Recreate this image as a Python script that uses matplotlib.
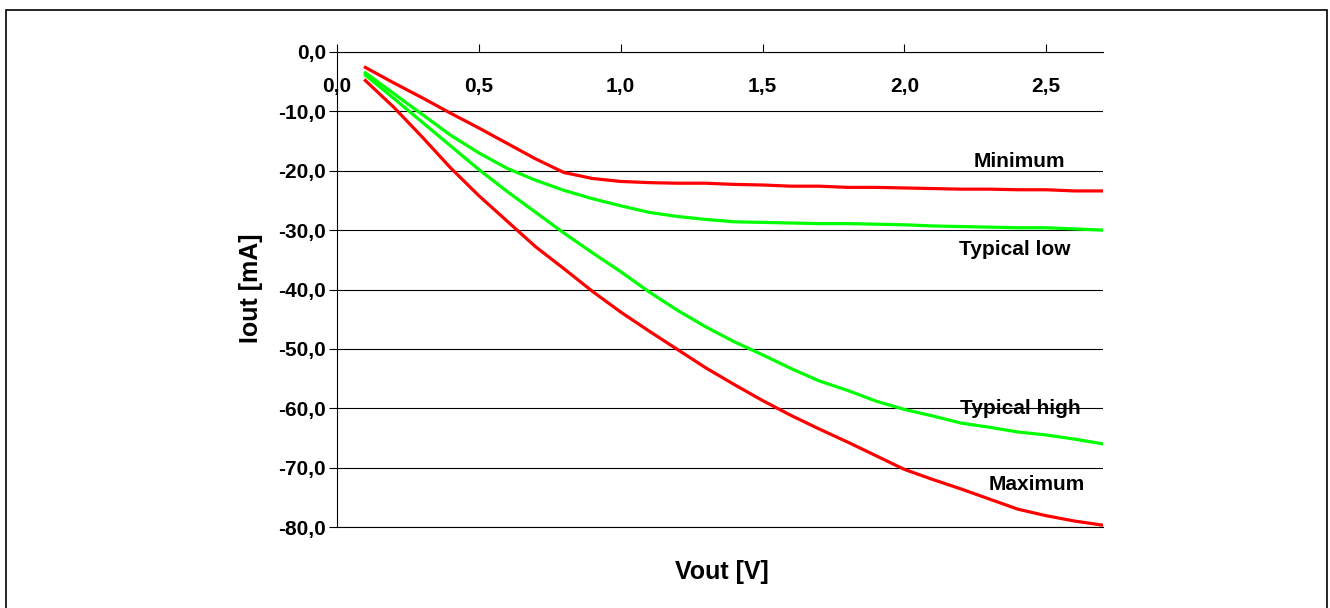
import matplotlib
matplotlib.use("Agg")
import matplotlib.pyplot as plt
from matplotlib.patches import Rectangle

# Vout steps (V)
vout = [0.1, 0.2, 0.3, 0.4, 0.5, 0.6, 0.7, 0.8, 0.9, 1.0, 1.1, 1.2, 1.3, 1.4,
        1.5, 1.6, 1.7, 1.8, 1.9, 2.0, 2.1, 2.2, 2.3, 2.4, 2.5, 2.6, 2.7]

# Iout curves
i_min = [-2.6, -5.2, -7.7, -10.3, -12.8, -15.4, -18.0, -20.3, -21.3, -21.8, -22.0,
         -22.1, -22.1, -22.3, -22.4, -22.6, -22.6, -22.8, -22.8, -22.9, -23.0,
         -23.1, -23.1, -23.2, -23.2, -23.4, -23.4]
i_typ_low = [-3.5, -7.0, -10.5, -14.0, -17.0, -19.6, -21.6, -23.3, -24.7, -25.9,
             -27.0, -27.7, -28.2, -28.6, -28.7, -28.8, -28.9, -28.9, -29.0, -29.1,
             -29.3, -29.4, -29.5, -29.6, -29.6, -29.8, -30.0]
i_typ_high = [-3.9, -7.8, -11.8, -15.8, -19.8, -23.5, -27.0, -30.5, -33.8, -37.0,
              -40.4, -43.5, -46.3, -48.8, -51.0, -53.3, -55.4, -57.0, -58.8, -60.2,
              -61.3, -62.5, -63.2, -64.0, -64.5, -65.2, -66.0]
i_max = [-4.8, -9.3, -14.3, -19.5, -24.2, -28.5, -32.8, -36.5, -40.3, -43.8, -47.0,
         -50.1, -53.2, -56.0, -58.7, -61.2, -63.5, -65.7, -68.0, -70.3, -72.0,
         -73.6, -75.3, -77.0, -78.1, -79.0, -79.7]

x_ticks = [0.0, 0.5, 1.0, 1.5, 2.0, 2.5]
x_labels = ["0,0", "0,5", "1,0", "1,5", "2,0", "2,5"]
y_ticks = [0, -10, -20, -30, -40, -50, -60, -70, -80]
y_labels = ["0,0", "-10,0", "-20,0", "-30,0", "-40,0", "-50,0", "-60,0", "-70,0", "-80,0"]

# curve name labels (text, x, y)
names = ["Minimum", "Typical low", "Typical high", "Maximum"]
name_x = [2.405, 2.39, 2.41, 2.465]
name_y = [-18.4, -33.3, -60.1, -72.9]

FONT = ["Liberation Sans Narrow", "Liberation Sans", "DejaVu Sans"]
plt.rcParams["font.family"] = FONT

fig = plt.figure(figsize=(13.3, 6.08), dpi=100)
ax = fig.add_axes([337/1330, 1 - 527/608, (1103-337)/1330, (527-52)/608])

ax.plot(vout, i_min, color="#ff0000", lw=2.3)
ax.plot(vout, i_typ_low, color="#00ff00", lw=2.3)
ax.plot(vout, i_typ_high, color="#00ff00", lw=2.3)
ax.plot(vout, i_max, color="#ff0000", lw=2.3)

ax.set_xlim(0, 2.7)
ax.set_ylim(-80, 0)

ax.set_xticks(x_ticks)
ax.set_xticklabels(x_labels)
ax.set_yticks(y_ticks)
ax.set_yticklabels(y_labels)

ax.xaxis.set_ticks_position("top")
ax.tick_params(axis="x", direction="out", length=6, width=0.8, pad=-38,
               labelsize=15)
ax.tick_params(axis="y", direction="out", length=6, width=0.8, pad=2,
               labelsize=15)
for lab in ax.get_xticklabels() + ax.get_yticklabels():
    lab.set_fontweight("bold")

ax.grid(axis="y", color="black", lw=0.8)
ax.spines["right"].set_visible(False)
ax.spines["bottom"].set_linewidth(0.8)
ax.spines["top"].set_linewidth(0.8)
ax.spines["left"].set_linewidth(0.8)

for t, x, y in zip(names, name_x, name_y):
    ax.text(x, y, t, ha="center", va="center", fontsize=15, fontweight="bold")

fig.text(251/1330, 1 - 288/608, "Iout [mA]", rotation=90, ha="center",
         va="center", fontsize=18, fontweight="bold")
fig.text(722/1330, 1 - 572/608, "Vout [V]", ha="center", va="center",
         fontsize=18, fontweight="bold")

fig.patches.append(Rectangle((6/1330, -0.02), 1321/1330, 1 - 10/608 + 0.02,
                             transform=fig.transFigure, fill=False,
                             edgecolor="black", lw=1.2))

fig.savefig("out.png", dpi=100)
